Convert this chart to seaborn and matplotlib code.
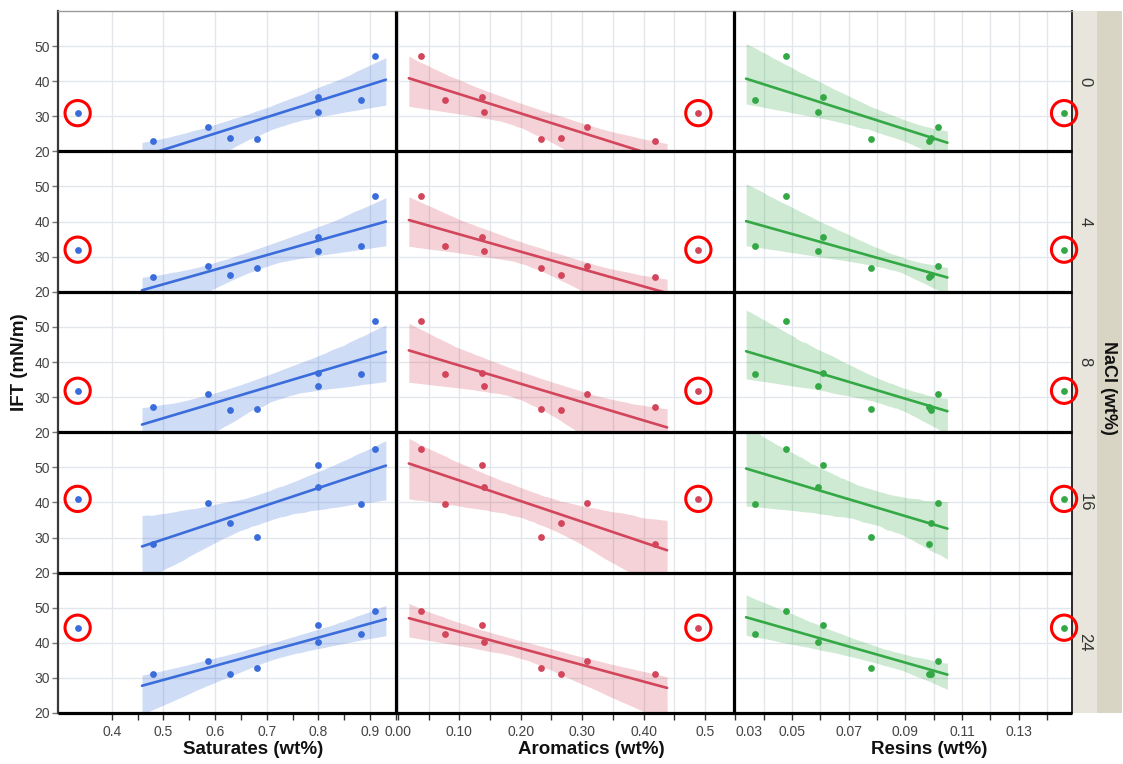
import numpy as np
import pandas as pd
import matplotlib
matplotlib.use("Agg")
import matplotlib.pyplot as plt
from matplotlib.patches import Rectangle
from matplotlib.lines import Line2D
from matplotlib.collections import PolyCollection
import seaborn as sns

# ---------------- data ----------------
saturates = [0.480, 0.586, 0.629, 0.681, 0.800, 0.800, 0.882, 0.909]
aromatics = [0.419, 0.307, 0.266, 0.233, 0.137, 0.141, 0.077, 0.037]
resins = [0.0985, 0.1016, 0.0990, 0.0780, 0.0610, 0.0590, 0.0370, 0.0480]

# circled outlier sample (excluded from the fit)
outlier_x = [0.334, 0.489, 0.146]

nacl_levels = ["0", "4", "8", "16", "24"]
ift_0 = [23.1, 26.9, 23.7, 23.5, 35.6, 31.1, 34.6, 47.2]
ift_4 = [24.3, 27.4, 24.7, 26.8, 35.5, 31.5, 33.0, 47.4]
ift_8 = [27.1, 30.9, 26.3, 26.6, 37.0, 33.2, 36.6, 51.8]
ift_16 = [28.1, 39.9, 34.0, 30.1, 50.6, 44.5, 39.6, 55.2]
ift_24 = [31.1, 34.9, 31.1, 32.7, 45.2, 40.1, 42.4, 49.0]
outlier_ift = [30.9, 32.0, 31.8, 41.0, 44.3]

col_labels = ["Saturates (wt%)", "Aromatics (wt%)", "Resins (wt%)"]
y_ticks = [20, 30, 40, 50]

sat_ticks = [0.4, 0.5, 0.6, 0.7, 0.8, 0.9]
sat_ticklabels = ["0.4", "0.5", "0.6", "0.7", "0.8", "0.9"]
aro_ticks = [0.0, 0.1, 0.2, 0.3, 0.4, 0.5]
aro_ticklabels = ["0.00", "0.10", "0.20", "0.30", "0.40", "0.5"]
res_ticks = [0.03, 0.05, 0.07, 0.09, 0.11, 0.13]
res_ticklabels = ["0.03", "0.05", "0.07", "0.09", "0.11", "0.13"]

# ---------------- styling ----------------
colors = ["#3a6ddb", "#d2455a", "#33a845"]
x_limits = [(0.296, 0.950), (-0.003, 0.547), (0.0295, 0.1488)]
minor_ticks = [np.arange(0.45, 0.96, 0.1), np.arange(0.05, 0.55, 0.1), np.arange(0.04, 0.15, 0.02)]

sns.set_theme(style="white")
plt.rcParams['font.family'] = ['Liberation Sans', 'DejaVu Sans']

x_data = [saturates, aromatics, resins]
ift_rows = [ift_0, ift_4, ift_8, ift_16, ift_24]
tick_sets = [(sat_ticks, sat_ticklabels), (aro_ticks, aro_ticklabels), (res_ticks, res_ticklabels)]

fig, axes = plt.subplots(5, 3, figsize=(11.23, 7.64), dpi=100, sharey=True)
W, H = 1123, 764
fig.subplots_adjust(left=58 / W, right=1072 / W, top=1 - 11 / H, bottom=1 - 713 / H,
                    wspace=0, hspace=0)

grid_color = "#e3e6eb"

for r in range(5):
    for c in range(3):
        ax = axes[r, c]
        ax.set_facecolor("none")
        x = np.asarray(x_data[c], dtype=float)
        y = np.asarray(ift_rows[r], dtype=float)
        lo, hi = x.min(), x.max()
        pad = 0.05 * (hi - lo)
        ax.set_xlim(lo - pad, hi + pad)
        sns.regplot(x=x, y=y, ax=ax, color=colors[c], truncate=False, ci=95,
                    n_boot=1000, seed=0,
                    scatter_kws=dict(s=24, linewidths=0, alpha=1, zorder=4),
                    line_kws=dict(lw=1.9, zorder=3))
        for coll in ax.collections:
            if isinstance(coll, PolyCollection):
                coll.set_alpha(0.24)
                coll.set_linewidth(0)
        # outlier + red circle
        ax.scatter([outlier_x[c]], [outlier_ift[r]], s=24, color=colors[c], linewidths=0,
                   zorder=4, clip_on=False)
        ax.scatter([outlier_x[c]], [outlier_ift[r]], s=330, facecolors="none",
                   edgecolors="#ff0000", linewidths=2.2, zorder=5, clip_on=False)

        ax.set_xlim(*x_limits[c])
        ax.set_ylim(20, 60)
        ticks, labels = tick_sets[c]
        ax.set_xticks(ticks)
        ax.set_xticklabels(labels)
        ax.set_xticks(minor_ticks[c], minor=True)
        ax.set_yticks(y_ticks)
        ax.set_axisbelow(True)
        ax.grid(True, which="major", color=grid_color, lw=1.0)
        if c > 0:
            ax.grid(True, which="minor", color=grid_color, lw=1.0)
        ax.set_xlabel("")
        ax.set_ylabel("")

        # spines (separators drawn at figure level below)
        for s in ax.spines.values():
            s.set_visible(False)
        if r == 0:
            ax.spines["top"].set_visible(True)
            ax.spines["top"].set_color("#9a9a9a")
            ax.spines["top"].set_linewidth(1.0)
        if c == 0:
            ax.spines["left"].set_visible(True)
            ax.spines["left"].set_color("#3a3a3a")
            ax.spines["left"].set_linewidth(1.6)
        if c == 2:
            ax.spines["right"].set_visible(True)
            ax.spines["right"].set_color("#2a2a2a")
            ax.spines["right"].set_linewidth(1.4)

        # ticks
        if r == 4:
            ax.tick_params(axis="x", which="both", bottom=True, labelbottom=True,
                           direction="out", length=5, width=1.0, color="#333333",
                           labelsize=10, labelcolor="#444444", pad=4)
            ax.set_xlabel(col_labels[c], fontsize=13.5, fontweight="bold", color="#111111")
            ax.xaxis.set_label_coords(0.577, -0.2)
        else:
            ax.tick_params(axis="x", which="both", bottom=False, labelbottom=False)
        if c == 0:
            ax.tick_params(axis="y", which="both", left=True, labelleft=True,
                           direction="out", length=4, width=1.0, color="#777777",
                           labelsize=10, labelcolor="#444444", pad=2)
        else:
            ax.tick_params(axis="y", which="both", left=False, labelleft=False)

# first resins tick label starts at the spine
first_lab = axes[4, 2].get_xticklabels()[0]
first_lab.set_horizontalalignment("left")

# separators (thick black lines between panels and along the bottom)
sep_lw = 2.3
x_left = axes[0, 0].get_position().x0
x_right = axes[0, 2].get_position().x1
y_top = axes[0, 0].get_position().y1
for r in range(5):
    yb = axes[r, 0].get_position().y0
    fig.add_artist(Line2D([x_left, x_right], [yb, yb], transform=fig.transFigure,
                          color="#000000", lw=sep_lw, zorder=10, solid_capstyle="butt"))
for c in (1, 2):
    xl = axes[0, c].get_position().x0
    fig.add_artist(Line2D([xl, xl], [axes[4, 0].get_position().y0, y_top],
                          transform=fig.transFigure, color="#000000", lw=sep_lw,
                          zorder=10, solid_capstyle="butt"))

# y label
fig.text(20 / W, 1 - 362 / H, "IFT (mN/m)", rotation=90, ha="center", va="center",
         fontsize=13.5, fontweight="bold", color="#111111")

# right strip
top_f, bot_f = 1 - 11 / H, 1 - 713 / H
fig.add_artist(Rectangle((1072 / W, bot_f), 25 / W, top_f - bot_f, transform=fig.transFigure,
                         facecolor="#e7e5dc", edgecolor="none", zorder=-1))
fig.add_artist(Rectangle((1097 / W, bot_f), 25 / W, top_f - bot_f, transform=fig.transFigure,
                         facecolor="#d9d5c4", edgecolor="none", zorder=-1))
for r in range(5):
    pos = axes[r, 2].get_position()
    fig.text(1085 / W, (pos.y0 + pos.y1) / 2, nacl_levels[r], rotation=270,
             ha="center", va="center", fontsize=12, color="#333333")
fig.text(1109 / W, 1 - 388 / H, "NaCl (wt%)", rotation=270, ha="center", va="center",
         fontsize=13, fontweight="bold", color="#111111")

fig.savefig("out.png", dpi=100)
